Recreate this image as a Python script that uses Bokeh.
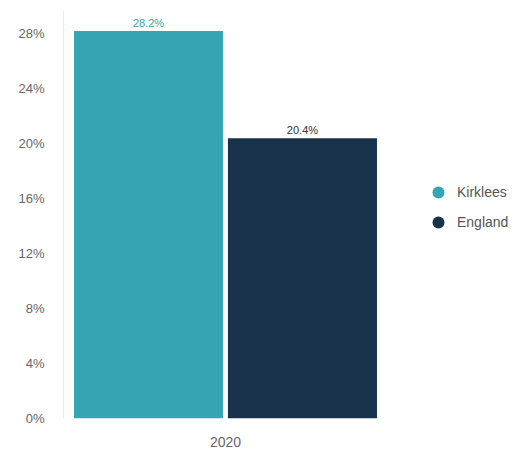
from bokeh.plotting import figure
from bokeh.models import ColumnDataSource, Range1d, FixedTicker, Legend, LegendItem
from bokeh.transform import dodge
from bokeh.core.properties import value
from bokeh.embed import file_html
from bokeh.resources import INLINE

years = ["2020"]
kirklees = [28.2]
england = [20.4]
series_names = ["Kirklees", "England"]
colors = ["#36A5B3", "#17324A"]
y_ticks = [0, 4, 8, 12, 16, 20, 24, 28]
y_tick_labels = ["0%", "4%", "8%", "12%", "16%", "20%", "24%", "28%"]

xpos = list(range(len(years)))
src = ColumnDataSource(dict(
    x=xpos,
    kirklees=kirklees,
    england=england,
    k_lab=[f"{v:.1f}%" for v in kirklees],
    e_lab=[f"{v:.1f}%" for v in england],
))

FONT = "Liberation Sans"
FRAME_LEFT = 63
W, H = 526, 450
GROUP_PX = 324  # pixel width of one category group

p = figure(width=W, height=H, output_backend="svg", toolbar_location=None,
           x_range=Range1d(-0.5, -0.5 + (W - FRAME_LEFT) / GROUP_PX), y_range=Range1d(0, 29.7),
           min_border_left=FRAME_LEFT, min_border_right=0, min_border_top=10, min_border_bottom=32)
p.outline_line_color = None
p.xgrid.visible = False
p.ygrid.visible = False

p.vbar(x=dodge("x", -0.2375), top="kirklees", width=0.46,
       source=src, fill_color=colors[0], line_color=None)
p.vbar(x=dodge("x", 0.2375), top="england", width=0.46,
       source=src, fill_color=colors[1], line_color=None)

p.text(x=dodge("x", -0.2375), y="kirklees", text="k_lab", source=src,
       text_align="center", text_baseline="bottom", y_offset=-2,
       text_font=value(FONT), text_font_size="11px", text_color=colors[0])
p.text(x=dodge("x", 0.2375), y="england", text="e_lab", source=src,
       text_align="center", text_baseline="bottom", y_offset=-2,
       text_font=value(FONT), text_font_size="11px", text_color="#333333")

# legend-only markers (NaN y, so nothing is drawn in the plot area)
leg_src = ColumnDataSource(dict(x=xpos, y=[float("nan")] * len(xpos)))
m1 = p.scatter(x="x", y="y", source=leg_src, marker="circle", size=14,
               fill_color=colors[0], line_color=None)
m2 = p.scatter(x="x", y="y", source=leg_src, marker="circle", size=14,
               fill_color=colors[1], line_color=None)
legend = Legend(items=[LegendItem(label=series_names[0], renderers=[m1]),
                       LegendItem(label=series_names[1], renderers=[m2])],
                location=(359, 181), border_line_color=None, background_fill_alpha=0,
                label_text_font=FONT, label_text_font_size="14px", label_text_color="#555555",
                glyph_width=32, glyph_height=30, spacing=0, label_standoff=3, padding=0, margin=0)
p.add_layout(legend, "center")

p.yaxis.ticker = FixedTicker(ticks=y_ticks)
p.yaxis.major_label_overrides = {t: l for t, l in zip(y_ticks, y_tick_labels)}
p.yaxis.axis_line_color = "#e6eef0"
p.yaxis.major_tick_line_color = None
p.yaxis.minor_tick_line_color = None
p.yaxis.major_label_standoff = 13
p.yaxis.major_label_text_font = FONT
p.yaxis.major_label_text_font_size = "13px"
p.yaxis.major_label_text_color = "#666666"

p.xaxis.ticker = FixedTicker(ticks=xpos)
p.xaxis.major_label_overrides = {i: y for i, y in zip(xpos, years)}
p.xaxis.axis_line_color = None
p.xaxis.major_tick_line_color = None
p.xaxis.minor_tick_line_color = None
p.xaxis.major_label_standoff = 12
p.xaxis.major_label_text_font = FONT
p.xaxis.major_label_text_font_size = "14px"
p.xaxis.major_label_text_color = "#666666"

open("out.html", "w").write(file_html(p, INLINE))
